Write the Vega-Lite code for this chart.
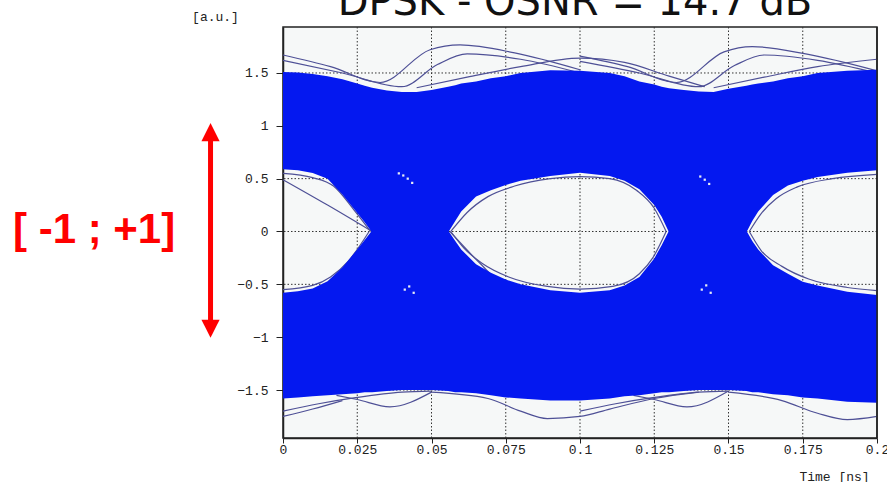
{
  "$schema": "https://vega.github.io/schema/vega-lite/v6.json",
  "autosize": {"type": "none"},
  "width": 594,
  "height": 411,
  "padding": {"left": 283, "top": 27, "right": 10, "bottom": 44},
  "background": "#ffffff",
  "datasets": {
    "env": [
      {"x": 0, "top": 1.51, "itop": 0.59, "ibot": -0.58, "bot": -1.58},
      {"x": 0.005, "top": 1.505, "itop": 0.58, "ibot": -0.565, "bot": -1.57},
      {"x": 0.01, "top": 1.49, "itop": 0.553, "ibot": -0.54, "bot": -1.56},
      {"x": 0.015, "top": 1.47, "itop": 0.5, "ibot": -0.47, "bot": -1.55},
      {"x": 0.02, "top": 1.44, "itop": 0.35, "ibot": -0.34, "bot": -1.54},
      {"x": 0.025, "top": 1.4, "itop": 0.175, "ibot": -0.17, "bot": -1.53},
      {"x": 0.0275, "top": 1.38, "itop": 0.088, "ibot": -0.08, "bot": -1.52},
      {"x": 0.03, "top": 1.36, "itop": -0.01, "ibot": 0.01, "bot": -1.52},
      {"x": 0.035, "top": 1.335, "itop": -0.01, "ibot": 0.01, "bot": -1.51},
      {"x": 0.04, "top": 1.32, "itop": -0.01, "ibot": 0.01, "bot": -1.5},
      {"x": 0.045, "top": 1.32, "itop": -0.01, "ibot": 0.01, "bot": -1.5},
      {"x": 0.05, "top": 1.34, "itop": -0.01, "ibot": 0.01, "bot": -1.5},
      {"x": 0.0556, "top": 1.37, "itop": -0.01, "ibot": 0.01, "bot": -1.51},
      {"x": 0.058, "top": 1.385, "itop": 0.1, "ibot": -0.09, "bot": -1.52},
      {"x": 0.06, "top": 1.4, "itop": 0.19, "ibot": -0.17, "bot": -1.52},
      {"x": 0.065, "top": 1.42, "itop": 0.33, "ibot": -0.31, "bot": -1.53},
      {"x": 0.07, "top": 1.45, "itop": 0.39, "ibot": -0.39, "bot": -1.55},
      {"x": 0.075, "top": 1.47, "itop": 0.44, "ibot": -0.455, "bot": -1.57},
      {"x": 0.08, "top": 1.5, "itop": 0.48, "ibot": -0.5, "bot": -1.58},
      {"x": 0.09, "top": 1.525, "itop": 0.525, "ibot": -0.555, "bot": -1.6},
      {"x": 0.1, "top": 1.52, "itop": 0.555, "ibot": -0.58, "bot": -1.6},
      {"x": 0.11, "top": 1.5, "itop": 0.525, "ibot": -0.555, "bot": -1.58},
      {"x": 0.115, "top": 1.47, "itop": 0.48, "ibot": -0.51, "bot": -1.56},
      {"x": 0.12, "top": 1.42, "itop": 0.4, "ibot": -0.43, "bot": -1.55},
      {"x": 0.125, "top": 1.39, "itop": 0.25, "ibot": -0.255, "bot": -1.53},
      {"x": 0.1275, "top": 1.37, "itop": 0.14, "ibot": -0.13, "bot": -1.52},
      {"x": 0.13, "top": 1.355, "itop": -0.01, "ibot": 0.01, "bot": -1.52},
      {"x": 0.135, "top": 1.34, "itop": -0.01, "ibot": 0.01, "bot": -1.51},
      {"x": 0.14, "top": 1.325, "itop": -0.01, "ibot": 0.01, "bot": -1.5},
      {"x": 0.145, "top": 1.32, "itop": -0.01, "ibot": 0.01, "bot": -1.5},
      {"x": 0.15, "top": 1.35, "itop": -0.01, "ibot": 0.01, "bot": -1.5},
      {"x": 0.156, "top": 1.38, "itop": -0.01, "ibot": 0.01, "bot": -1.51},
      {"x": 0.158, "top": 1.39, "itop": 0.1, "ibot": -0.09, "bot": -1.52},
      {"x": 0.16, "top": 1.4, "itop": 0.19, "ibot": -0.17, "bot": -1.52},
      {"x": 0.165, "top": 1.42, "itop": 0.345, "ibot": -0.32, "bot": -1.54},
      {"x": 0.17, "top": 1.45, "itop": 0.435, "ibot": -0.4, "bot": -1.55},
      {"x": 0.175, "top": 1.47, "itop": 0.48, "ibot": -0.475, "bot": -1.57},
      {"x": 0.18, "top": 1.5, "itop": 0.515, "ibot": -0.51, "bot": -1.58},
      {"x": 0.19, "top": 1.52, "itop": 0.555, "ibot": -0.57, "bot": -1.61},
      {"x": 0.2, "top": 1.53, "itop": 0.58, "ibot": -0.6, "bot": -1.62}
    ],
    "traces": [
      {"id": "t1", "x": 0, "y": 1.67}, {"id": "t1", "x": 0.016, "y": 1.56}, {"id": "t1", "x": 0.0327, "y": 1.41}, {"id": "t1", "x": 0.0495, "y": 1.72}, {"id": "t1", "x": 0.0596, "y": 1.765}, {"id": "t1", "x": 0.078, "y": 1.69}, {"id": "t1", "x": 0.1, "y": 1.53},
      {"id": "t2", "x": 0, "y": 1.62}, {"id": "t2", "x": 0.02, "y": 1.5}, {"id": "t2", "x": 0.04, "y": 1.37}, {"id": "t2", "x": 0.052, "y": 1.58}, {"id": "t2", "x": 0.062, "y": 1.68}, {"id": "t2", "x": 0.08, "y": 1.63}, {"id": "t2", "x": 0.1, "y": 1.5},
      {"id": "t3", "x": 0.045, "y": 1.36}, {"id": "t3", "x": 0.062, "y": 1.46}, {"id": "t3", "x": 0.08, "y": 1.56}, {"id": "t3", "x": 0.1, "y": 1.64}, {"id": "t3", "x": 0.115, "y": 1.6}, {"id": "t3", "x": 0.13, "y": 1.47}, {"id": "t3", "x": 0.142, "y": 1.37},
      {"id": "t4", "x": 0.1, "y": 1.66}, {"id": "t4", "x": 0.116, "y": 1.56}, {"id": "t4", "x": 0.1325, "y": 1.41}, {"id": "t4", "x": 0.1485, "y": 1.7}, {"id": "t4", "x": 0.158, "y": 1.75}, {"id": "t4", "x": 0.176, "y": 1.68}, {"id": "t4", "x": 0.2, "y": 1.52},
      {"id": "t5", "x": 0.1, "y": 1.61}, {"id": "t5", "x": 0.12, "y": 1.5}, {"id": "t5", "x": 0.14, "y": 1.37}, {"id": "t5", "x": 0.152, "y": 1.57}, {"id": "t5", "x": 0.162, "y": 1.67}, {"id": "t5", "x": 0.18, "y": 1.62}, {"id": "t5", "x": 0.2, "y": 1.5},
      {"id": "t6", "x": 0.145, "y": 1.36}, {"id": "t6", "x": 0.162, "y": 1.46}, {"id": "t6", "x": 0.18, "y": 1.56}, {"id": "t6", "x": 0.2, "y": 1.63},
      {"id": "b1", "x": 0, "y": -1.7}, {"id": "b1", "x": 0.012, "y": -1.63}, {"id": "b1", "x": 0.025, "y": -1.57}, {"id": "b1", "x": 0.04, "y": -1.52}, {"id": "b1", "x": 0.05, "y": -1.51},
      {"id": "b2", "x": 0.05, "y": -1.52}, {"id": "b2", "x": 0.069, "y": -1.58}, {"id": "b2", "x": 0.08, "y": -1.7}, {"id": "b2", "x": 0.089, "y": -1.77}, {"id": "b2", "x": 0.1, "y": -1.75}, {"id": "b2", "x": 0.11, "y": -1.68}, {"id": "b2", "x": 0.125, "y": -1.58}, {"id": "b2", "x": 0.14, "y": -1.52},
      {"id": "b3", "x": 0.018, "y": -1.55}, {"id": "b3", "x": 0.025, "y": -1.59}, {"id": "b3", "x": 0.036, "y": -1.66}, {"id": "b3", "x": 0.05, "y": -1.52},
      {"id": "b4", "x": 0.1, "y": -1.7}, {"id": "b4", "x": 0.112, "y": -1.63}, {"id": "b4", "x": 0.125, "y": -1.57}, {"id": "b4", "x": 0.14, "y": -1.52}, {"id": "b4", "x": 0.15, "y": -1.51},
      {"id": "b5", "x": 0.15, "y": -1.52}, {"id": "b5", "x": 0.168, "y": -1.6}, {"id": "b5", "x": 0.18, "y": -1.72}, {"id": "b5", "x": 0.19, "y": -1.78}, {"id": "b5", "x": 0.2, "y": -1.75},
      {"id": "b6", "x": 0.118, "y": -1.55}, {"id": "b6", "x": 0.125, "y": -1.59}, {"id": "b6", "x": 0.136, "y": -1.66}, {"id": "b6", "x": 0.15, "y": -1.51},
      {"id": "b7", "x": 0, "y": -1.75}, {"id": "b7", "x": 0.01, "y": -1.68}, {"id": "b7", "x": 0.02, "y": -1.6},
      {"id": "e1", "x": 0, "y": 0.55}, {"id": "e1", "x": 0.01, "y": 0.51}, {"id": "e1", "x": 0.017, "y": 0.43}, {"id": "e1", "x": 0.024, "y": 0.2}, {"id": "e1", "x": 0.0295, "y": 0},
      {"id": "e2", "x": 0, "y": 0.49}, {"id": "e2", "x": 0.015, "y": 0.25}, {"id": "e2", "x": 0.03, "y": 0},
      {"id": "e3", "x": 0, "y": -0.55}, {"id": "e3", "x": 0.01, "y": -0.51}, {"id": "e3", "x": 0.016, "y": -0.43}, {"id": "e3", "x": 0.022, "y": -0.28}, {"id": "e3", "x": 0.029, "y": 0},
      {"id": "e4", "x": 0.0565, "y": 0}, {"id": "e4", "x": 0.062, "y": 0.18}, {"id": "e4", "x": 0.069, "y": 0.33}, {"id": "e4", "x": 0.078, "y": 0.43}, {"id": "e4", "x": 0.09, "y": 0.5}, {"id": "e4", "x": 0.1, "y": 0.52}, {"id": "e4", "x": 0.11, "y": 0.5}, {"id": "e4", "x": 0.119, "y": 0.39}, {"id": "e4", "x": 0.125, "y": 0.22}, {"id": "e4", "x": 0.129, "y": 0},
      {"id": "e5", "x": 0.0565, "y": 0}, {"id": "e5", "x": 0.061, "y": -0.16}, {"id": "e5", "x": 0.067, "y": -0.3}, {"id": "e5", "x": 0.076, "y": -0.43}, {"id": "e5", "x": 0.089, "y": -0.52}, {"id": "e5", "x": 0.1, "y": -0.545}, {"id": "e5", "x": 0.111, "y": -0.52}, {"id": "e5", "x": 0.12, "y": -0.4}, {"id": "e5", "x": 0.1245, "y": -0.25}, {"id": "e5", "x": 0.129, "y": 0},
      {"id": "e6", "x": 0.0562, "y": 0}, {"id": "e6", "x": 0.0663, "y": -0.3}, {"id": "e6", "x": 0.075, "y": -0.52}, {"id": "e6", "x": 0.09, "y": -0.6},
      {"id": "e7", "x": 0.157, "y": 0}, {"id": "e7", "x": 0.161, "y": 0.17}, {"id": "e7", "x": 0.166, "y": 0.31}, {"id": "e7", "x": 0.173, "y": 0.42}, {"id": "e7", "x": 0.185, "y": 0.5}, {"id": "e7", "x": 0.2, "y": 0.54},
      {"id": "e8", "x": 0.157, "y": 0}, {"id": "e8", "x": 0.161, "y": -0.18}, {"id": "e8", "x": 0.168, "y": -0.33}, {"id": "e8", "x": 0.177, "y": -0.45}, {"id": "e8", "x": 0.19, "y": -0.53}, {"id": "e8", "x": 0.2, "y": -0.56}
    ],
    "specks": [
      {"x": 0.0405, "y": 0.53}, {"x": 0.042, "y": 0.5}, {"x": 0.0435, "y": 0.46}, {"x": 0.039, "y": 0.55},
      {"x": 0.041, "y": -0.55}, {"x": 0.0425, "y": -0.52}, {"x": 0.044, "y": -0.58},
      {"x": 0.1405, "y": 0.52}, {"x": 0.142, "y": 0.49}, {"x": 0.1435, "y": 0.45},
      {"x": 0.141, "y": -0.55}, {"x": 0.1425, "y": -0.51}, {"x": 0.144, "y": -0.58}
    ],
    "gridx": [{"x": 0.025}, {"x": 0.05}, {"x": 0.075}, {"x": 0.1}, {"x": 0.125}, {"x": 0.15}, {"x": 0.175}],
    "gridy": [{"y": -1.5}, {"y": -1}, {"y": -0.5}, {"y": 0}, {"y": 0.5}, {"y": 1}, {"y": 1.5}]
  },
  "layer": [
    {
      "data": {"name": "gridx"},
      "mark": {"type": "rule", "color": "#333333", "strokeDash": [1.5, 2], "strokeWidth": 1},
      "encoding": {
        "x": {"field": "x", "type": "quantitative", "title": "Time [ns]",
          "scale": {"domain": [0, 0.2], "nice": false, "zero": false},
          "axis": {"values": [0, 0.025, 0.05, 0.075, 0.1, 0.125, 0.15, 0.175, 0.2], "format": ".3~g", "tickSize": 5, "labelPadding": 0, "labelFlush": false, "labelOverlap": false, "title": "Time [ns]", "titleX": 551, "titleY": 38, "titleAlign": "center", "titleBaseline": "middle"}
        }
      }
    },
    {
      "data": {"name": "gridy"},
      "mark": {"type": "rule", "color": "#333333", "strokeDash": [1.5, 2], "strokeWidth": 1},
      "encoding": {
        "y": {"field": "y", "type": "quantitative", "title": "[a.u.]",
          "scale": {"domain": [-1.954, 1.935], "nice": false, "zero": false},
          "axis": {"values": [-1.5, -1, -0.5, 0, 0.5, 1, 1.5], "format": ".2~g", "tickSize": 7, "labelPadding": 8, "labelOverlap": false, "title": "[a.u.]", "titleAngle": 0, "titleX": -68, "titleY": -11, "titleAlign": "center", "titleBaseline": "middle"}
        }
      }
    },
    {
      "data": {"name": "traces"},
      "mark": {"type": "line", "color": "#4e5096", "strokeWidth": 1.2, "interpolate": "monotone"},
      "encoding": {
        "x": {"field": "x", "type": "quantitative"},
        "y": {"field": "y", "type": "quantitative"},
        "detail": {"field": "id"}
      }
    },
    {
      "data": {"name": "env"},
      "mark": {"type": "area", "color": "#0418f0", "opacity": 1},
      "encoding": {
        "x": {"field": "x", "type": "quantitative"},
        "y": {"field": "itop", "type": "quantitative"},
        "y2": {"field": "top"}
      }
    },
    {
      "data": {"name": "env"},
      "mark": {"type": "area", "color": "#0418f0", "opacity": 1},
      "encoding": {
        "x": {"field": "x", "type": "quantitative"},
        "y": {"field": "bot", "type": "quantitative"},
        "y2": {"field": "ibot"}
      }
    },
    {
      "data": {"name": "specks"},
      "mark": {"type": "square", "color": "#e8ecf4", "size": 5, "opacity": 1},
      "encoding": {
        "x": {"field": "x", "type": "quantitative"},
        "y": {"field": "y", "type": "quantitative"}
      }
    },
    {
      "data": {"values": [{}]},
      "mark": {"type": "rule", "color": "#222222", "strokeWidth": 1.5},
      "encoding": {"x": {"datum": 0.2}}
    },
    {
      "data": {"values": [{}]},
      "mark": {"type": "text", "text": "DPSK - OSNR = 14.7 dB", "font": "DejaVu Sans", "fontSize": 40, "align": "center", "baseline": "alphabetic", "color": "#111111"},
      "encoding": {"x": {"datum": 0.0983}, "y": {"datum": 2.048}}
    },
    {
      "data": {"values": [{}]},
      "mark": {"type": "text", "text": "[ -1 ; +1]", "font": "Liberation Sans", "fontWeight": "bold", "fontSize": 42, "align": "center", "baseline": "alphabetic", "color": "#ff0000"},
      "encoding": {"x": {"datum": -0.0636}, "y": {"datum": -0.109}}
    },
    {
      "data": {"values": [{}]},
      "mark": {"type": "rule", "color": "#ff0000", "strokeWidth": 5},
      "encoding": {"x": {"datum": -0.0244}, "y": {"datum": -0.86}, "y2": {"datum": 0.88}}
    },
    {
      "data": {"values": [{}]},
      "mark": {"type": "point", "shape": "M-1,1L1,1L0,-1Z", "size": 330, "filled": true, "color": "#ff0000", "opacity": 1, "strokeWidth": 0},
      "encoding": {"x": {"datum": -0.0244}, "y": {"datum": 0.94}}
    },
    {
      "data": {"values": [{}]},
      "mark": {"type": "point", "shape": "M-1,-1L1,-1L0,1Z", "size": 330, "filled": true, "color": "#ff0000", "opacity": 1, "strokeWidth": 0},
      "encoding": {"x": {"datum": -0.0244}, "y": {"datum": -0.92}}
    }
  ],
  "config": {
    "view": {"stroke": "#222222", "strokeWidth": 1.5, "fill": "#f6f8f8"},
    "axis": {"grid": false, "zindex": 1, "domainColor": "#222222", "domainWidth": 1.5, "tickColor": "#222222", "tickWidth": 1, "labelFont": "Liberation Mono", "labelFontSize": 13, "labelColor": "#222222", "titleFont": "Liberation Mono", "titleFontSize": 13, "titleFontWeight": "normal", "titleColor": "#222222"}
  }
}
